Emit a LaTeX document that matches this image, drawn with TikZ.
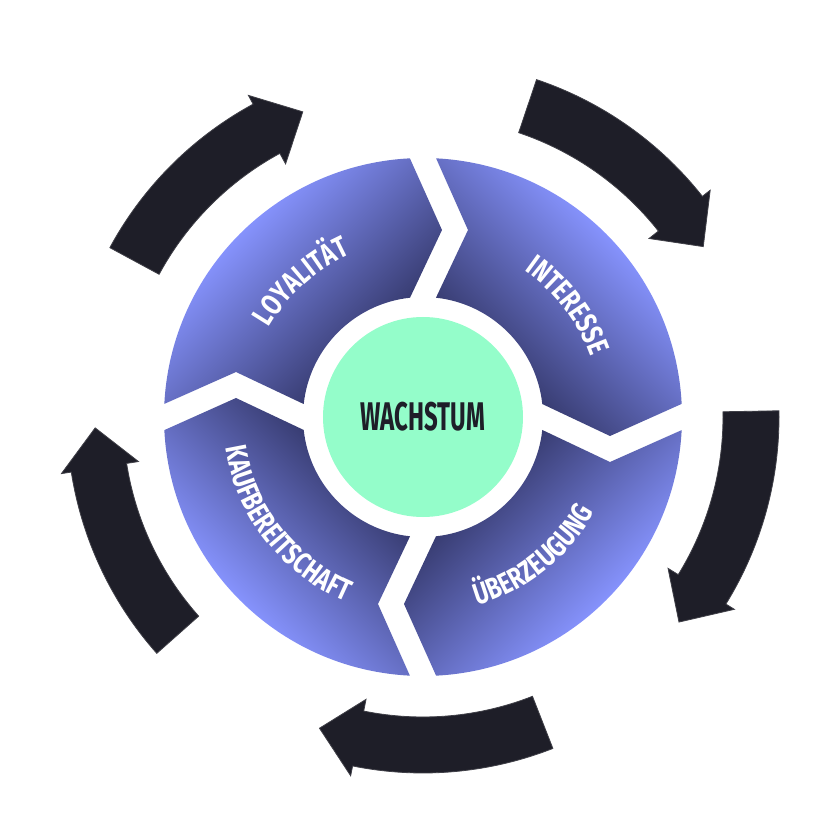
\documentclass[tikz,border=0pt]{standalone}
\usepackage{fontspec}
\usetikzlibrary{calc, decorations.text}
\newfontfamily\cyclefont[FakeStretch=0.76]{Fira Sans}
\newfontfamily\corefont[FakeStretch=0.6]{Fira Sans}
\definecolor{segLight}{HTML}{8794FF}
\definecolor{segDark}{HTML}{363A6E}
\definecolor{ink}{HTML}{1E1E28}
\definecolor{mint}{HTML}{94FDCA}

\begin{document}
\begin{tikzpicture}[x=1pt, y=1pt,
  segment/.style={insert path={
    (#1-2.9:\Rout) arc[start angle=#1-2.9, end angle=#1-87.1, radius=\Rout]
    -- ($(#1-90:\Rmid)+(#1-180:19)$)
    -- (#1-83.8:\Rin) arc[start angle=#1-83.8, end angle=#1-6.2, radius=\Rin]
    -- ($(#1:\Rmid)+(#1-90:45)$) -- cycle}},
  cyclearrow/.style={fill=ink, draw=ink!85!white, line width=0.8pt},
  seglabel/.style={decorate, decoration={text along path, text align=center,
    text color=white, text={#1}}},
]
  \def\Rout{259} \def\Rin{120} \def\Rmid{187}
  \useasboundingbox (-423,-418) rectangle (412,417);

  % ring of four segments, each one lit from its outer side
  \foreach \a in {180,90,0,-90}{
    \begin{scope}
      \clip[segment=\a];
      \shade[transform canvas={rotate=\a-135}, bottom color=segDark,
        middle color=segDark!70!segLight, top color=segLight]
        (-280,88) rectangle (280,262);
    \end{scope}
  }

  \begin{scope}
    \cyclefont\bfseries\fontsize{30}{30}\selectfont
    \path[seglabel=LOYALITÄT] (172:178) arc[start angle=172, end angle=92, radius=178];
    \path[seglabel=INTERESSE] (77.5:178) arc[start angle=77.5, end angle=-2.5, radius=178];
    \path[seglabel=ÜBERZEUGUNG] (-91.5:196) arc[start angle=-91.5, end angle=-11.5, radius=196];
    \path[seglabel=KAUFBEREITSCHAFT] (178:200) arc[start angle=178, end angle=258, radius=200];
  \end{scope}

  \node[circle, fill=mint, minimum size=200pt, inner sep=0pt, text=ink,
    font=\corefont\bfseries\fontsize{40}{40}\selectfont] (core) at (0,0) {WACHSTUM};

  % outer arrows, tail angle / tip angle
  \foreach \t/\p in {151.6/111.5, 71.4/31.3, 1/-38.7, -68.6/-108.4, 221.6/181.9}
    \filldraw[cyclearrow] (\t:356) arc[start angle=\t, end angle=\p+7, radius=356]
      -- (\p+7:366) -- (\p:328) -- (\p+7:288) -- (\p+7:300)
      arc[start angle=\p+7, end angle=\t, radius=300] -- cycle;
\end{tikzpicture}
\end{document}
